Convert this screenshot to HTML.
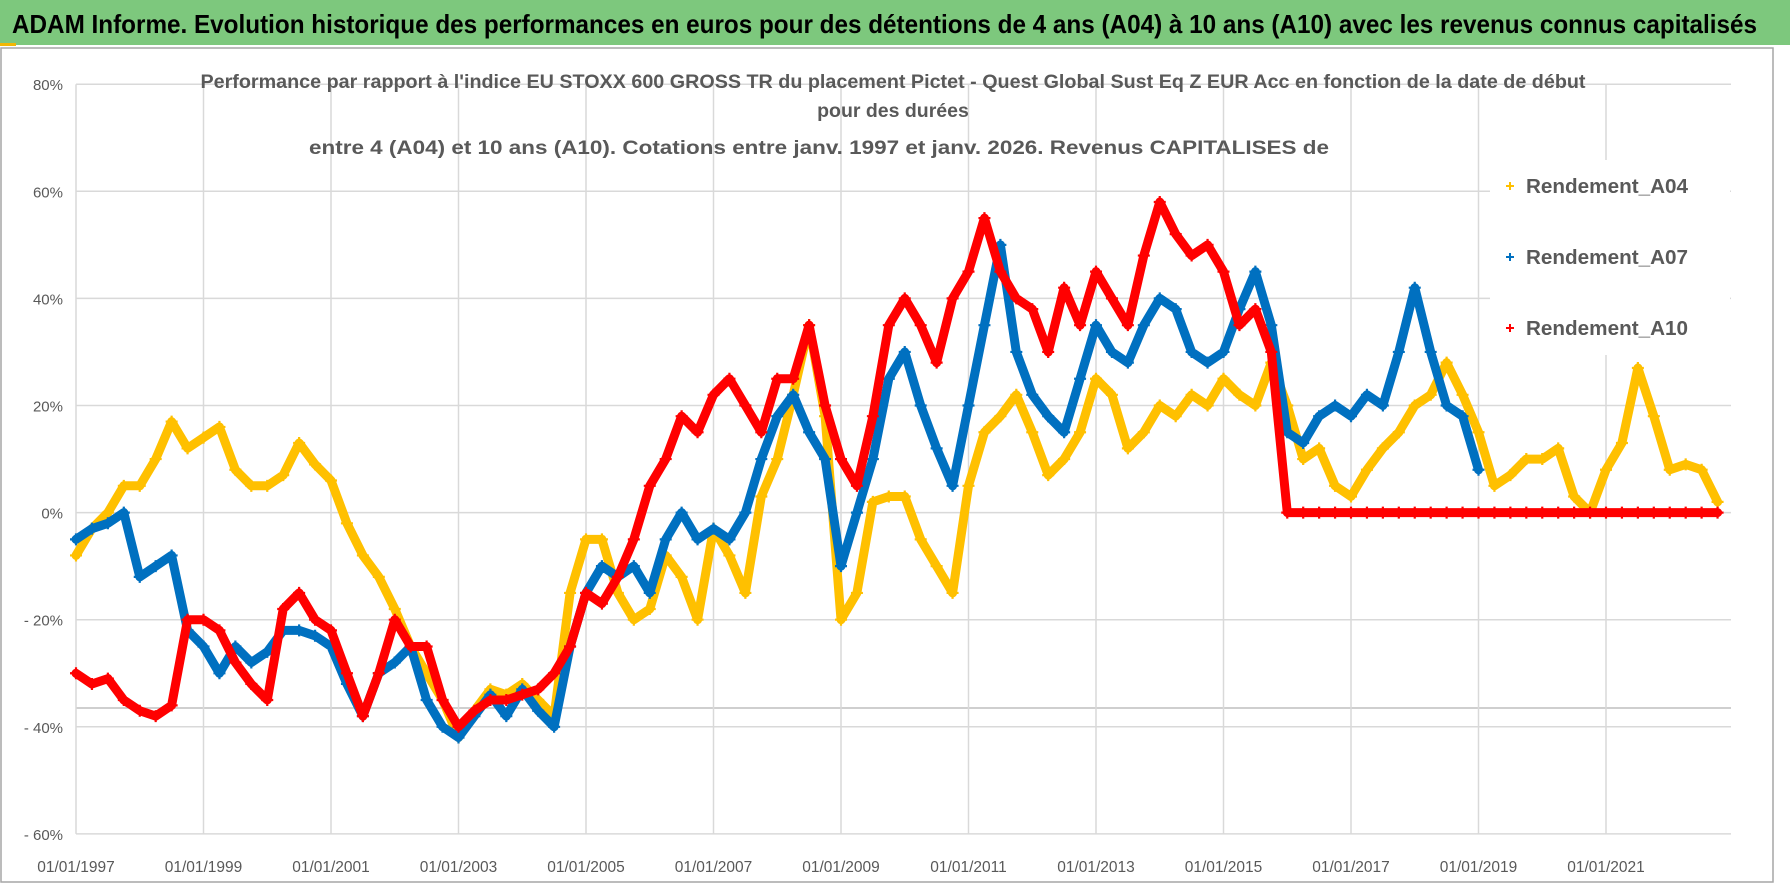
<!DOCTYPE html>
<html><head><meta charset="utf-8"><style>
html,body{margin:0;padding:0;background:#fff;}
svg{display:block;font-family:"Liberation Sans",sans-serif;}
</style></head><body>
<svg id="chart" width="1790" height="886" viewBox="0 0 1790 886">
<rect x="0" y="0" width="1790" height="886" fill="#fff"/>
<rect x="0" y="0" width="1790" height="45" fill="#7dc87d"/>
<rect x="0" y="43" width="16" height="3" fill="#f2b705"/>
<text x="12" y="33" font-size="26" font-weight="bold" fill="#000" textLength="1745" lengthAdjust="spacingAndGlyphs">ADAM Informe. Evolution historique des performances en euros pour des détentions de 4 ans (A04) à 10 ans (A10) avec les revenus connus capitalisés</text>
<rect x="1" y="48" width="1772" height="834" fill="none" stroke="#a6a6a6" stroke-width="1.5"/>
<g id="grid"></g>
<g id="yticks"></g>
<g id="xticks"></g>
<g id="series"></g>
<rect x="1490" y="160" width="240" height="195" fill="#fff"/>
<g fill="#595959" font-weight="bold" font-size="19.5" text-anchor="middle">
<text x="893" y="88" textLength="1385" lengthAdjust="spacingAndGlyphs">Performance par rapport à l'indice EU STOXX 600 GROSS TR  du placement Pictet - Quest Global Sust Eq Z EUR Acc en fonction de la date de début</text>
<text x="893" y="117">pour des durées</text>
<text x="819" y="154" textLength="1020" lengthAdjust="spacingAndGlyphs">entre 4 (A04) et 10 ans (A10).  Cotations entre janv. 1997 et janv. 2026. Revenus CAPITALISES de</text>
</g>
<g id="legend" font-size="20" fill="#595959"></g>
</svg>
<script>
const startYear = 1997;
const stepYears = 0.25;
const yTickValues = [80,60,40,20,0,-20,-40,-60];
const yTickLabels = ["80%","60%","40%","20%","0%","- 20%","- 40%","- 60%"];
const xTickYears = [1997,1999,2001,2003,2005,2007,2009,2011,2013,2015,2017,2019,2021];
const xTickLabels = ["01/01/1997","01/01/1999","01/01/2001","01/01/2003","01/01/2005","01/01/2007","01/01/2009","01/01/2011","01/01/2013","01/01/2015","01/01/2017","01/01/2019","01/01/2021"];
const seriesNames = ["Rendement_A04","Rendement_A07","Rendement_A10"];
const a04 = [-8,-3,0,5,5,10,17,12,14,16,8,5,5,7,13,9,6,-2,-8,-12,-18,-25,-30,-35,-42,-37,-33,-34,-32,-35,-38,-15,-5,-5,-15,-20,-18,-8,-12,-20,-3,-8,-15,3,10,22,35,18,-20,-15,2,3,3,-5,-10,-15,5,15,18,22,15,7,10,15,25,22,12,15,20,18,22,20,25,22,20,28,20,10,12,5,3,8,12,15,20,22,28,22,15,5,7,10,10,12,3,0,8,13,27,18,8,9,8,2,0,0];
const a07 = [-5,-3,-2,0,-12,-10,-8,-22,-25,-30,-25,-28,-26,-22,-22,-23,-25,-32,-38,-30,-28,-25,-35,-40,-42,-38,-34,-38,-33,-37,-40,-25,-15,-10,-12,-10,-15,-5,0,-5,-3,-5,0,10,18,22,15,10,-10,0,10,25,30,20,12,5,20,35,50,30,22,18,15,25,35,30,28,35,40,38,30,28,30,38,45,35,15,13,18,20,18,22,20,30,42,30,20,18,8];
const a10 = [-30,-32,-31,-35,-37,-38,-36,-20,-20,-22,-28,-32,-35,-18,-15,-20,-22,-30,-38,-30,-20,-25,-25,-35,-40,-37,-35,-35,-34,-33,-30,-25,-15,-17,-12,-5,5,10,18,15,22,25,20,15,25,25,35,20,10,5,18,35,40,35,28,40,45,55,45,40,38,30,42,35,45,40,35,48,58,52,48,50,45,35,38,30,0,0,0,0,0,0,0,0,0,0,0,0,0,0,0,0,0,0,0,0,0,0,0,0,0,0,0,0,0];
const seriesData = [a04,a07,a10];
const seriesColors = ["#ffc000","#0070c0","#ff0000"];

const NS = "http://www.w3.org/2000/svg";
const X0 = 76, X1 = 1731, YEAR_PX = 63.75;
const Y0 = 512.6, PCT_PX = 5.355;
function xScale(year){ return X0 + (year - startYear) * YEAR_PX; }
function yScale(v){ return Y0 - v * PCT_PX; }
function mk(tag, attrs, parent){ const e=document.createElementNS(NS,tag); for(const k in attrs) e.setAttribute(k,attrs[k]); parent.appendChild(e); return e; }

const grid=document.getElementById('grid');
yTickValues.forEach((v,i)=>{
  const l=mk('line',{x1:X0,x2:X1,y1:yScale(v),y2:yScale(v),stroke:'#d9d9d9','stroke-width':1.5},grid);
  
  
  const t=mk('text',{x:63,y:yScale(v)+6,'text-anchor':'end','font-size':15,fill:'#595959'},document.getElementById('yticks'));
  t.textContent=yTickLabels[i];
  
  
});
const extra=mk('line',{x1:X0,x2:X1,y1:708,y2:708,stroke:'#bfbfbf','stroke-width':1.5},grid);


xTickYears.forEach((yr,i)=>{
  const l=mk('line',{x1:xScale(yr),x2:xScale(yr),y1:yScale(80),y2:yScale(-60),stroke:'#d9d9d9','stroke-width':1.5},grid);
  
  
  const t=mk('text',{x:xScale(yr),y:872,'text-anchor':'middle','font-size':15.5,fill:'#595959'},document.getElementById('xticks'));
  t.textContent=xTickLabels[i];
  
  
});

const sg=document.getElementById('series');
seriesData.forEach((arr,si)=>{
  const g=mk('g',{},sg);
  
  
  const pts=[];
  arr.forEach((v,i)=>{ const x=xScale(startYear+i*stepYears); if(x<=X1) pts.push([x,yScale(v)]); });
  const pl=mk('polyline',{points:pts.map(p=>p[0].toFixed(1)+','+p[1].toFixed(1)).join(' '),fill:'none',stroke:seriesColors[si],'stroke-width':9,'stroke-linejoin':'round','stroke-linecap':'round'},g);
  
  
  pts.forEach(([x,y])=>{
    const p=mk('path',{d:`M${x-6},${y}H${x+6}M${x},${y-6}V${y+6}`,stroke:seriesColors[si],'stroke-width':2.2},g);
    
    
  });
});

const lg=document.getElementById('legend');
seriesNames.forEach((n,i)=>{
  const y=186+i*71;
  const m=mk('path',{d:`M1506,${y}H1514M1510,${y-4}V${y+4}`,stroke:seriesColors[i],'stroke-width':2},lg);
  
  
  const t=mk('text',{x:1526,y:y+7,textLength:162,lengthAdjust:'spacingAndGlyphs','font-weight':'bold'},lg);
  t.textContent=n;
  
  
});
</script>
</body></html>
